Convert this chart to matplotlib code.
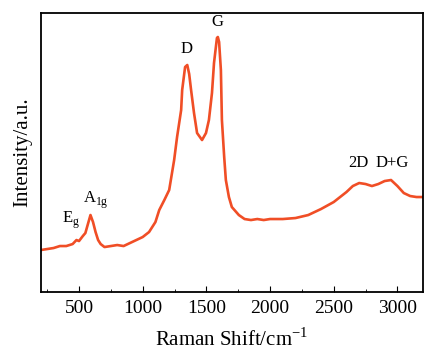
import matplotlib
matplotlib.use('Agg')
import matplotlib.pyplot as plt
from matplotlib.ticker import MultipleLocator

plt.rcParams['font.family'] = ['Liberation Serif', 'DejaVu Serif']
plt.rcParams['mathtext.fontset'] = 'custom'
plt.rcParams['mathtext.rm'] = 'Liberation Serif'

# raman spectrum (intensity in arbitrary units)
shift = [200, 250, 300, 350, 400, 450, 480, 500, 530, 550, 570, 590, 610, 630, 650, 670,
         700, 750, 800, 850, 900, 950, 1000, 1050, 1100, 1130, 1170, 1208, 1247, 1270,
         1302, 1310, 1333, 1350, 1365, 1380, 1403, 1427, 1466, 1497, 1520, 1544,
         1560, 1583, 1590, 1600, 1614, 1622, 1640, 1653, 1677, 1700, 1755,
         1800, 1850, 1900, 1950, 2000, 2100, 2200, 2300, 2400, 2500, 2550, 2600,
         2650, 2700, 2750, 2800, 2850, 2900, 2950, 3000, 3050, 3100, 3150, 3200]
intensity = [42, 43, 44, 46, 46, 48, 52, 51, 56, 59, 68, 77, 70, 60, 52, 48,
             45, 46, 47, 46, 49, 52, 55, 60, 70, 82, 92, 102, 132, 155,
             182, 202, 225, 227, 218, 202, 179, 159, 152, 159, 172, 199,
             229, 254, 255, 250, 222, 172, 135, 112, 95, 85, 77,
             73, 72, 73, 72, 73, 73, 74, 77, 83, 90, 95, 100,
             106, 109, 108, 106, 108, 111, 112, 106, 99, 96, 95, 95]

labels = ['D', 'G', '2D', 'D+G', r'E$_\mathregular{g}$', r'A$_\mathregular{1g}$']
label_x = [1348, 1590, 2692, 2958, 434, 630]
label_y = [243, 270, 129, 129, 72, 92]

fig = plt.figure(figsize=(4.25, 3.61), dpi=100)
ax = fig.add_axes([0.096, 0.191, 0.899, 0.773])
ax.plot(shift, intensity, color='#f04e26', lw=1.9)

for t, x, y in zip(labels, label_x, label_y):
    ax.text(x, y, t, ha='center', va='center', fontsize=12)

ax.set_xlim(200, 3200)
ax.set_ylim(0, 279)
ax.xaxis.set_major_locator(MultipleLocator(500))
ax.xaxis.set_minor_locator(MultipleLocator(250))
ax.tick_params(axis='x', which='both', direction='in', labelsize=14, pad=6)
ax.tick_params(axis='x', which='major', length=4)
ax.tick_params(axis='x', which='minor', length=2)
ax.set_yticks([])
for s in ax.spines.values():
    s.set_linewidth(1.3)

ax.set_xlabel(r'Raman Shift/cm$^\mathregular{-1}$', fontsize=15, labelpad=8)
ax.set_ylabel('Intensity/a.u.', fontsize=15, labelpad=6)

fig.savefig('out.png', dpi=100)
